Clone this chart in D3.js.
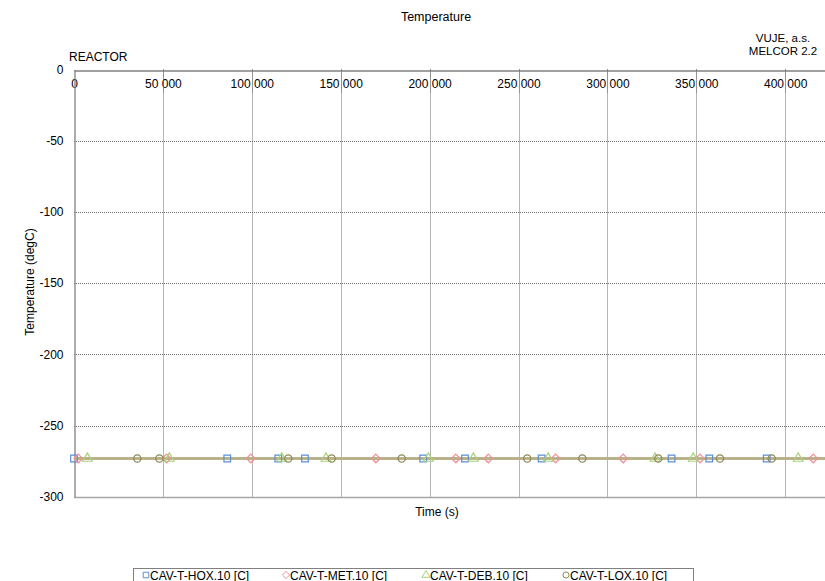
<!DOCTYPE html>
<html><head><meta charset="utf-8">
<script src="https://cdn.jsdelivr.net/npm/d3@7"></script>
<style>
body{margin:0;background:#fff;}
text{font-family:"Liberation Sans",Arial,sans-serif;fill:#000;}
</style></head>
<body>
<svg id="chart" width="825" height="581"></svg>
<script>
// ---- data ----
const xTicks = [0, 50000, 100000, 150000, 200000, 250000, 300000, 350000, 400000];
const yTicks = [0, -50, -100, -150, -200, -250, -300];
const seriesNames = ["CAV-T-HOX.10 [C]", "CAV-T-MET.10 [C]", "CAV-T-DEB.10 [C]", "CAV-T-LOX.10 [C]"];
const seriesColors = ["#5a8fd8", "#ec8f97", "#a9d27a", "#8f8858"];
const seriesSymbols = ["square", "diamond", "triangle", "circle"];
const lineTimes = [0, 425000];
const tempValue = -273.15;
const hoxTimes = [0, 86200, 114900, 129900, 196400, 219900, 263000, 336100, 357300, 389600];
const metTimes = [2400, 52100, 99400, 169800, 214800, 233000, 270900, 308900, 352100, 415800];
const debTimes = [7500, 53600, 116800, 141700, 199300, 224600, 266700, 326800, 348300, 407300];
const loxTimes = [35600, 48000, 120500, 144900, 184300, 254900, 285900, 328600, 363300, 392400];
const markerTimes = [hoxTimes, metTimes, debTimes, loxTimes];

// ---- layout ----
const svg = d3.select("#chart");
const L = 74, T = 69.5, B = 496.7, R = 825;
const x = d3.scaleLinear().domain([0, 50000 * (R - L) / 88.9]).range([L, R]);
const y = d3.scaleLinear().domain([0, -300]).range([T, B]);
const FONT = "Liberation Sans, Arial, sans-serif";

// gridlines
const grid = svg.append("g");
grid.selectAll("line.v").data(xTicks.filter(d => d > 0)).enter().append("line")
  .attr("x1", d => Math.round(x(d)) + 0.5).attr("x2", d => Math.round(x(d)) + 0.5)
  .attr("y1", T).attr("y2", B)
  .attr("stroke", "#6e6e6e").attr("stroke-width", 1).attr("stroke-dasharray", "1,1");
grid.selectAll("line.h").data(yTicks.filter(d => d < 0 && d > -300)).enter().append("line")
  .attr("y1", d => Math.round(y(d)) + 0.5).attr("y2", d => Math.round(y(d)) + 0.5)
  .attr("x1", L).attr("x2", R)
  .attr("stroke", "#6e6e6e").attr("stroke-width", 1).attr("stroke-dasharray", "1,1");

// bottom border
svg.append("line").attr("x1", L).attr("x2", R).attr("y1", Math.round(B) + 0.5).attr("y2", Math.round(B) + 0.5)
  .attr("stroke", "#a6a6a6").attr("stroke-width", 1.3);

// axes
const xAxis = d3.axisBottom(x).tickValues(xTicks).tickSize(0).tickPadding(9);
const gx = svg.append("g").attr("transform", `translate(0,${Math.round(T) + 0.5})`).call(xAxis);
gx.select(".domain").attr("stroke", "#808080").attr("stroke-width", 1.3);
gx.selectAll("text").attr("font-size", 12).attr("font-family", FONT).attr("fill", "#000")
  .text(d => d === 0 ? "0" : d3.format(",")(d).replace(/,/g, " "));
// gridline drawn over the labels (as in the original)
svg.append("g").selectAll("line").data(xTicks.filter(d => d > 0)).enter().append("line")
  .attr("x1", d => Math.round(x(d)) + 0.5).attr("x2", d => Math.round(x(d)) + 0.5)
  .attr("y1", T).attr("y2", T + 24)
  .attr("stroke", "#6e6e6e").attr("stroke-width", 1).attr("stroke-dasharray", "1,1");

const yAxis = d3.axisLeft(y).tickValues(yTicks).tickSize(0).tickPadding(11);
const gy = svg.append("g").attr("transform", `translate(${L + 0.5},0)`).call(yAxis);
gy.select(".domain").attr("stroke", "#808080").attr("stroke-width", 1.3);
gy.selectAll("text").attr("font-size", 12).attr("font-family", FONT).attr("fill", "#000")
  .text(d => String(d));

// symbols
const diamondSym = { draw(ctx, size) { const r = Math.sqrt(size) / 1.6; ctx.moveTo(0, -r); ctx.lineTo(r, 0); ctx.lineTo(0, r); ctx.lineTo(-r, 0); ctx.closePath(); } };
const symTypes = { square: d3.symbolSquare, diamond: diamondSym, triangle: d3.symbolTriangle, circle: d3.symbolCircle };
const symSizes = { square: 44, diamond: 48, triangle: 40, circle: 42 };

// series
const line = d3.line().x(d => x(d)).y(() => y(tempValue));
seriesNames.forEach((name, i) => {
  svg.append("path").datum(lineTimes).attr("d", line)
    .attr("fill", "none").attr("stroke", i === 3 ? "#b8ae82" : seriesColors[i]).attr("stroke-width", 2);
});
seriesNames.forEach((name, i) => {
  const sym = d3.symbol().type(symTypes[seriesSymbols[i]]).size(symSizes[seriesSymbols[i]]);
  svg.append("g").selectAll("path").data(markerTimes[i]).enter().append("path")
    .attr("d", sym)
    .attr("transform", d => `translate(${x(d)},${y(tempValue)})`)
    .attr("fill", "none").attr("stroke", seriesColors[i]).attr("stroke-width", 1.2);
});

// texts
svg.append("text").attr("x", 436).attr("y", 21).attr("text-anchor", "middle").attr("font-size", 12.5).text("Temperature");
svg.append("text").attr("x", 783).attr("y", 42).attr("text-anchor", "middle").attr("font-size", 11.5).text("VUJE, a.s.");
svg.append("text").attr("x", 783).attr("y", 55).attr("text-anchor", "middle").attr("font-size", 11.5).text("MELCOR 2.2");
svg.append("text").attr("x", 69).attr("y", 61).attr("font-size", 12).text("REACTOR");
svg.append("text").attr("transform", "translate(34,282) rotate(-90)").attr("text-anchor", "middle").attr("font-size", 12).text("Temperature (degC)");
svg.append("text").attr("x", 437).attr("y", 516).attr("text-anchor", "middle").attr("font-size", 12).text("Time (s)");

// legend
svg.append("rect").attr("x", 133.5).attr("y", 568.5).attr("width", 560).attr("height", 20)
  .attr("fill", "#fff").attr("stroke", "#808080").attr("stroke-width", 1);
seriesNames.forEach((name, i) => {
  const lx = 146 + i * 140;
  const sym = d3.symbol().type(symTypes[seriesSymbols[i]]).size(symSizes[seriesSymbols[i]] * 0.7);
  svg.append("path").attr("d", sym).attr("transform", `translate(${lx},${575})`)
    .attr("fill", "none").attr("stroke", seriesColors[i]).attr("stroke-width", 1);
  svg.append("text").attr("x", lx + 4).attr("y", 579.5).attr("font-size", 12).text(name);
});
</script>
</body></html>
